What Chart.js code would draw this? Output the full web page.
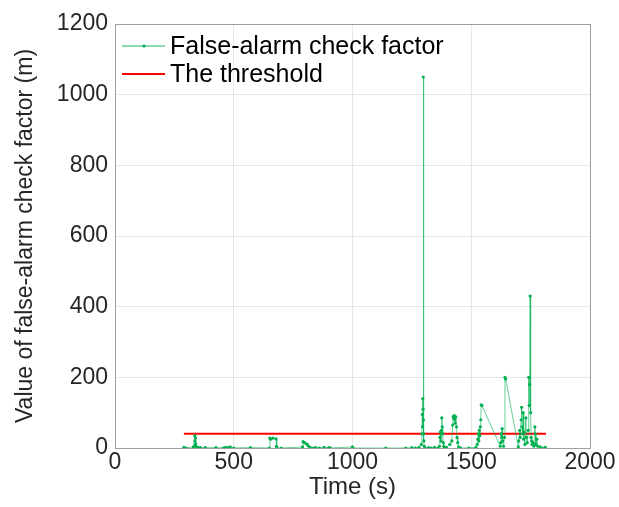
<!DOCTYPE html>
<html>
<head>
<meta charset="utf-8">
<script src="https://cdn.jsdelivr.net/npm/chart.js@4.4.0/dist/chart.umd.min.js"></script>
<style>
  html, body { margin: 0; padding: 0; background: #fff; }
  #wrap { width: 619px; height: 507px; }
</style>
</head>
<body>
<div id="wrap"><canvas id="myChart" width="619" height="507"></canvas></div>
<script>
// Time stamps (s) and false-alarm check factor values (m)
const times = [
  290, 300, 330, 336, 337, 338, 339, 340, 342, 345, 350, 360, 380, 425, 455, 465, 475, 485, 500, 570,
  650, 652, 655, 665, 678, 680, 682, 700, 790, 792, 798, 805, 810, 815, 822, 835, 845, 860, 880, 900,
  907, 1000, 1002, 1140, 1224, 1250, 1265, 1280, 1290, 1292, 1294, 1295, 1296, 1297, 1298, 1299, 1300, 1301, 1302, 1305,
  1320, 1330, 1345, 1360, 1366, 1368, 1370, 1372, 1374, 1376, 1378, 1380, 1382, 1384, 1388, 1395, 1410, 1418, 1422, 1424,
  1426, 1428, 1430, 1432, 1435, 1438, 1440, 1443, 1447, 1455, 1490, 1520, 1525, 1528, 1530, 1532, 1534, 1536, 1538, 1540,
  1542, 1545, 1622, 1624, 1626, 1628, 1630, 1632, 1636, 1640, 1642, 1645, 1698, 1700, 1704, 1706, 1710, 1712, 1714, 1716,
  1718, 1720, 1722, 1726, 1730, 1732, 1736, 1740, 1742, 1744, 1746, 1748, 1750, 1752, 1754, 1756, 1760, 1764, 1768, 1770,
  1772, 1776, 1780, 1790, 1800, 1812
];
const checkFactor = [
  2, 0, 3, 35, 20, 8, 28, 12, 4, 0, 2, 1, 1, 1, 0, 2, 1, 3, 0, 1,
  0, 28, 25, 28, 26, 5, 0, 0, 3, 18, 15, 12, 10, 5, 2, 0, 1, 0, 2, 1,
  0, 3, 0, 0, 0, 1, 0, 2, 10, 40, 95, 60, 140, 110, 1050, 80, 40, 20, 5, 0,
  1, 0, 2, 0, 5, 30, 45, 20, 50, 85, 60, 40, 15, 5, 0, 2, 10, 20, 65, 88,
  85, 92, 80, 70, 88, 60, 30, 15, 3, 0, 0, 2, 10, 25, 40, 20, 50, 35, 60, 80,
  122, 120, 5, 15, 40, 30, 55, 20, 5, 30, 200, 195, 3, 20, 50, 30, 80, 115, 60, 40,
  100, 25, 45, 10, 85, 30, 15, 50, 200, 120, 180, 430, 100, 30, 20, 10, 15, 5, 60, 40,
  10, 25, 5, 3, 0, 2
];
const thresholdValue = 40;
const thresholdTimes = [290, 1815];

const xTicks = [0, 500, 1000, 1500, 2000];
const yTicks = [0, 200, 400, 600, 800, 1000, 1200];

const green = 'rgb(0,176,80)';
const greenLine = 'rgba(0,176,80,0.6)';
const red = 'rgb(255,0,0)';
const fontFamily = "'Liberation Sans', Arial, sans-serif";
const textColor = '#262626';

// Box around the plot area (MATLAB style)
const boxPlugin = {
  id: 'box',
  afterDraw(chart) {
    const a = chart.chartArea;
    const ctx = chart.ctx;
    ctx.save();
    ctx.strokeStyle = '#a0a0a0';
    ctx.lineWidth = 1;
    ctx.strokeRect(a.left + 0.5, a.top + 0.5, a.right - a.left, a.bottom - a.top);
    ctx.restore();
  }
};

// Legend drawn inside the top-left corner
const legendPlugin = {
  id: 'insideLegend',
  afterDraw(chart) {
    const a = chart.chartArea;
    const ctx = chart.ctx;
    ctx.save();
    ctx.font = '25px ' + fontFamily;
    ctx.textBaseline = 'middle';
    const rows = [
      { label: chart.data.datasets[0].label, color: greenLine, dot: green, y: a.top + 22 },
      { label: chart.data.datasets[1].label, color: red, dot: null, y: a.top + 50 }
    ];
    rows.forEach(r => {
      ctx.strokeStyle = r.color;
      ctx.lineWidth = r.dot ? 1.5 : 2;
      ctx.beginPath();
      ctx.moveTo(a.left + 7, r.y);
      ctx.lineTo(a.left + 50, r.y);
      ctx.stroke();
      if (r.dot) {
        ctx.fillStyle = r.dot;
        ctx.beginPath();
        ctx.arc(a.left + 29, r.y, 1.6, 0, Math.PI * 2);
        ctx.fill();
      }
      ctx.fillStyle = '#000';
      ctx.fillText(r.label, a.left + 55, r.y + 1);
    });
    ctx.restore();
  }
};

const ctx = document.getElementById('myChart').getContext('2d');
new Chart(ctx, {
  type: 'line',
  data: {
    datasets: [
      {
        label: 'False-alarm check factor',
        data: times.map((t, i) => ({ x: t, y: checkFactor[i] })),
        borderColor: greenLine,
        backgroundColor: green,
        borderWidth: 1,
        pointRadius: 1.6,
        pointBorderWidth: 0,
        pointBackgroundColor: green,
        tension: 0,
        fill: false
      },
      {
        label: 'The threshold',
        data: thresholdTimes.map(t => ({ x: t, y: thresholdValue })),
        borderColor: red,
        borderWidth: 2,
        pointRadius: 0,
        fill: false
      }
    ]
  },
  options: {
    responsive: false,
    animation: false,
    layout: { padding: { left: 0, top: 24, right: 29, bottom: 0 } },
    plugins: { legend: { display: false }, tooltip: { enabled: false } },
    scales: {
      x: {
        type: 'linear',
        min: 0,
        max: 2000,
        afterBuildTicks: s => { s.ticks = xTicks.map(v => ({ value: v })); },
        afterFit: s => { s.height = 59; },
        grid: { color: 'rgba(0,0,0,0.09)', drawTicks: false },
        border: { display: false },
        ticks: { color: textColor, font: { family: fontFamily, size: 23 }, padding: 1, maxRotation: 0, callback: v => String(v) },
        title: { display: true, text: 'Time (s)', color: textColor, font: { family: fontFamily, size: 24 }, padding: { top: 0, bottom: 5 } }
      },
      y: {
        min: 0,
        max: 1200,
        afterBuildTicks: s => { s.ticks = yTicks.map(v => ({ value: v })); },
        afterFit: s => { s.width = 115; },
        grid: { color: 'rgba(0,0,0,0.09)', drawTicks: false },
        border: { display: false },
        ticks: { color: textColor, font: { family: fontFamily, size: 23 }, padding: 7, callback: v => String(v) },
        title: { display: true, text: 'Value of false-alarm check factor (m)', color: textColor, font: { family: fontFamily, size: 23 }, padding: { top: 12, bottom: 0 } }
      }
    }
  },
  plugins: [boxPlugin, legendPlugin]
});
</script>
</body>
</html>
